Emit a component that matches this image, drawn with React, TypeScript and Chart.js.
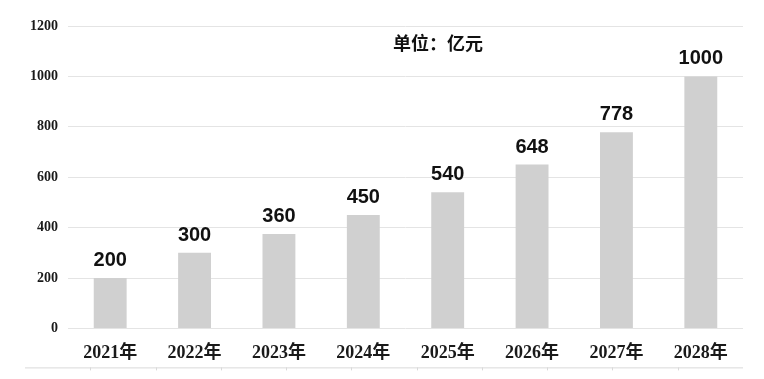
import React, { useEffect, useRef } from "react";
import { Chart, registerables } from "chart.js";

Chart.register(...registerables);

const categories = ["2021年", "2022年", "2023年", "2024年", "2025年", "2026年", "2027年", "2028年"];
const barValues = [200, 300, 375, 450, 540, 650, 778, 1000];
const valueLabels = ["200", "300", "360", "450", "540", "648", "778", "1000"];
const unitLabel = "单位：亿元";
const yMax = 1200;
const yStep = 200;

const overlayPlugin = {
  id: "overlay",
  afterDatasetsDraw(chart: any) {
    const ctx = chart.ctx;
    const meta = chart.getDatasetMeta(0);
    ctx.save();
    ctx.fillStyle = "#111";
    ctx.font = "bold 20px 'Liberation Sans', Arial, sans-serif";
    ctx.textAlign = "center";
    ctx.textBaseline = "alphabetic";
    meta.data.forEach((el: any, i: number) => {
      ctx.fillText(valueLabels[i], el.x, el.y - 12);
    });
    const ca = chart.chartArea;
    ctx.font = "bold 18px 'Noto Sans CJK SC', sans-serif";
    ctx.textBaseline = "middle";
    ctx.fillText(unitLabel, ca.left + (ca.right - ca.left) * 0.548, ca.top + 17);
    // decorative bottom rule
    const y = ca.bottom + 39;
    ctx.strokeStyle = "#d9d9d9";
    ctx.lineWidth = 1;
    ctx.beginPath();
    ctx.moveTo(25, y + 0.5);
    ctx.lineTo(ca.right, y + 0.5);
    const n = 11;
    const step = (ca.right - 25) / n;
    for (let k = 1; k < n; k++) {
      const x = Math.round(25 + k * step) + 0.5;
      ctx.moveTo(x, y);
      ctx.lineTo(x, y + 3);
    }
    ctx.stroke();
    ctx.restore();
  },
};

export default function App() {
  const ref = useRef<HTMLCanvasElement>(null);
  useEffect(() => {
    document.body.style.margin = "0";
    const chart = new Chart(ref.current!, {
      type: "bar",
      data: {
        labels: categories,
        datasets: [
          {
            data: barValues,
            backgroundColor: "#d0d0d0",
            borderWidth: 0,
            barPercentage: 0.39,
            categoryPercentage: 1,
          },
        ],
      },
      options: {
        responsive: false,
        animation: false,
        layout: { padding: { left: 20, right: 21, top: 26, bottom: 1 } },
        plugins: { legend: { display: false }, tooltip: { enabled: false }, title: { display: false } },
        scales: {
          x: {
            grid: { display: false, drawTicks: false },
            border: { display: false },
            ticks: {
              padding: 14,
              color: "#1a1a1a",
              font: { family: "'Liberation Serif', 'Noto Sans CJK SC', serif", size: 18, weight: "bold" },
            },
          },
          y: {
            min: 0,
            max: yMax,
            grid: { color: "#e4e4e4", lineWidth: 1, drawTicks: false },
            border: { display: false },
            ticks: {
              stepSize: yStep,
              padding: 10,
              color: "#1a1a1a",
              callback: (v: any) => String(v),
              font: { family: "'Liberation Serif', serif", size: 14, weight: "bold" },
            },
          },
        },
      },
      plugins: [overlayPlugin],
    });
    return () => chart.destroy();
  }, []);
  return (
    <div style={{ width: 764, height: 379, background: "#fff" }}>
      <canvas ref={ref} width={764} height={379} style={{ display: "block" }} />
    </div>
  );
}
